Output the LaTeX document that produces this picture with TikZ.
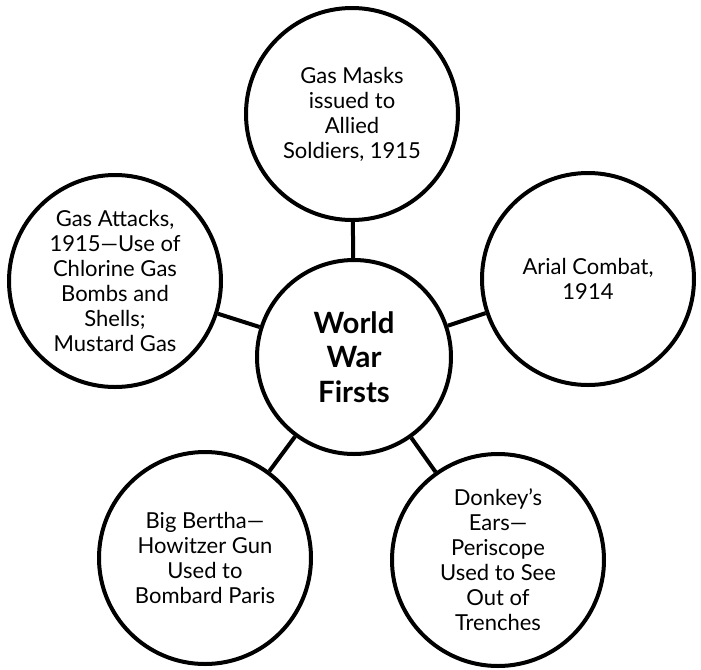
\documentclass[tikz,border=0pt]{standalone}
\usepackage{fontspec}
\setmainfont{Lato}
\begin{document}
\begin{tikzpicture}[x=0.75pt,y=-0.75pt,
  bub/.style={circle,draw,line width=3pt,minimum size=159pt,inner sep=0pt,align=center,font=\fontsize{16.5}{18.75}\selectfont},
  hub/.style={circle,draw,line width=3pt,minimum size=145.5pt,inner sep=0pt,align=center,font=\fontsize{22}{26}\selectfont\bfseries},
  link/.style={line width=3pt}]
\useasboundingbox (0,0) rectangle (701,669);
\node[hub] (C) at (354,357) {World\\War\\Firsts};
\node[bub] (T) at (352,114) {Gas Masks\\issued to\\Allied\\Soldiers, 1915};
\node[bub] (R) at (588,279) {Arial Combat,\\1914};
\node[bub] (L) at (115,281) {Gas Attacks,\\1915—Use of\\Chlorine Gas\\Bombs and\\Shells;\\Mustard Gas};
\node[bub] (BL) at (205,558) {Big Bertha—\\Howitzer Gun\\Used to\\Bombard Paris};
\node[bub] (BR) at (498,560) {Donkey's\\Ears—\\Periscope\\Used to See\\Out of\\Trenches};
\draw[link] (C) -- (T);
\draw[link] (C) -- (R);
\draw[link] (C) -- (L);
\draw[link] (C) -- (BL);
\draw[link] (C) -- (BR);
\end{tikzpicture}
\end{document}
